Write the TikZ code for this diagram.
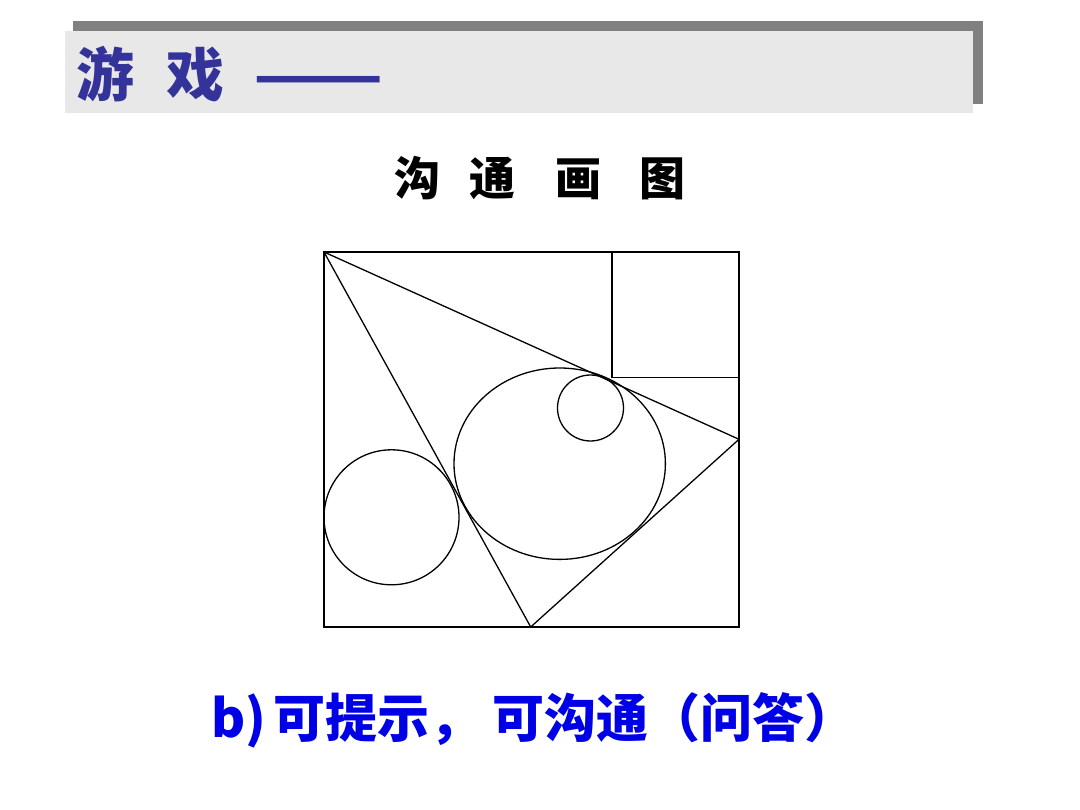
\documentclass[tikz,border=0pt]{standalone}
\usepackage{fontspec}
\usepackage{graphicx}
\usetikzlibrary{shapes.geometric}
\newfontfamily\cjk{Noto Sans CJK SC}
\definecolor{hdrblue}{RGB}{51,51,153}
\definecolor{hdrgray}{RGB}{128,128,128}
\definecolor{hdrlight}{RGB}{232,232,232}
\definecolor{txtblue}{RGB}{0,0,230}
\tikzset{
  figline/.style={line width=1.3pt, draw=black},
  txt/.style={inner sep=0pt, outer sep=0pt, anchor=west}
}
\begin{document}
\begin{tikzpicture}[x=1pt,y=-1pt]
\useasboundingbox (0,0) rectangle (1080,810);
\fill[white] (0,0) rectangle (1080,810);
% header bar
\fill[hdrgray] (73,21) rectangle (983,104);
\fill[hdrlight] (65,31) rectangle (973,113);
\node[txt, text=hdrblue] (hdr) at (76,74.5) {\cjk\bfseries\fontsize{58}{60}\selectfont 游\hspace{33pt}戏\hspace{29pt}\scalebox{1.31}[1]{——}};
% title
\node[txt] (title) at (394,178) {\cjk\bfseries\fontsize{46}{48}\selectfont 沟\hspace{30pt}通\hspace{39pt}画\hspace{39pt}图};
% diagram
\coordinate (A) at (324,252);
\coordinate (B) at (739,439.3);
\coordinate (C) at (530.7,627);
\draw[line width=1.8pt] (324,252) rectangle (739,627);
\draw[figline] (612,252) rectangle (739,377.7);
\draw[figline, line join=round] (A) -- (B) -- (C) -- cycle;
\node[figline, circle, minimum size=66pt, inner sep=0pt] (small) at (590.5,408) {};
\node[figline, ellipse, minimum width=211.4pt, minimum height=191.4pt, inner sep=0pt] (big) at (559.7,463.7) {};
\node[figline, circle, minimum size=135pt, inner sep=0pt] (left) at (391.5,517.3) {};
% bottom text
\node[txt, text=txtblue] (bottom) at (211,720) {\cjk\bfseries\fontsize{52}{54}\selectfont b)\hspace{8pt}可提示，\hspace{10pt}可沟通（问答）};
\end{tikzpicture}
\end{document}
